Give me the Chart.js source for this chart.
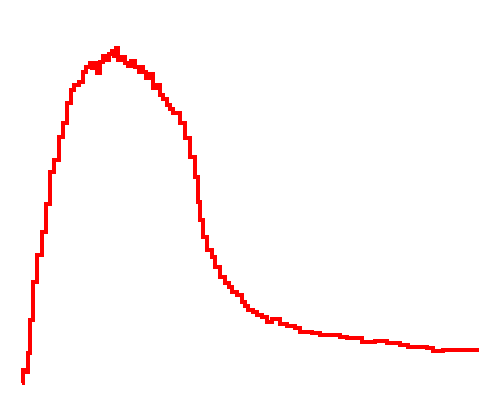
<!DOCTYPE html>
<html>
<head>
<meta charset="utf-8">
<script src="https://cdn.jsdelivr.net/npm/chart.js@4"></script>
<style>
  html, body { margin: 0; padding: 0; background: #fff; }
  canvas { display: block; }
</style>
</head>
<body>
<canvas id="chartCanvas" width="494" height="403"></canvas>
<script>
// positions along the curve and the height of each step
const xs = [22, 23, 25, 28, 30, 33, 37, 42, 46, 50, 54, 59, 63, 67, 71, 74, 79, 83, 86, 90, 92, 95, 97, 100,
  103, 106, 109, 112, 114, 116, 118, 121, 125, 128, 131, 135, 139, 141, 143, 146, 149, 153, 156, 160, 163, 167, 170, 173, 180, 185, 190, 195, 198, 200, 203, 207,
  212, 215, 220, 225, 229, 232, 237, 242, 245, 248, 253, 257, 262, 267, 272, 280, 287, 295, 300, 312, 320, 328, 340, 347, 362,
  375, 387, 400, 408, 427, 433, 443, 479];
const heights = [20, 33, 31, 50, 83, 121, 148, 171, 199, 231, 243, 266, 280, 300, 313, 318, 321, 331, 336, 340, 335, 340, 330, 341,
  347, 343, 349, 352, 347, 355, 343, 346, 340, 337, 342, 336, 331, 336, 331, 325, 329, 315, 318, 308, 304, 298, 294, 290, 280, 265, 246, 226, 201, 183, 166, 153,
  146, 136, 126, 120, 116, 111, 108, 101, 97, 93, 91, 88, 86, 81, 84, 79, 77, 75, 71, 70, 68, 68, 66, 65, 61,
  62, 60, 58, 56, 55, 52, 53, 53];

const ctx = document.getElementById("chartCanvas").getContext("2d");

new Chart(ctx, {
  type: "line",
  data: {
    datasets: [{
      data: xs.map((x, i) => ({ x: x, y: heights[i] })),
      borderColor: "#ff0000",
      borderWidth: 4,
      pointRadius: 0,
      stepped: true,
      fill: false
    }]
  },
  options: {
    responsive: false,
    animation: false,
    layout: { padding: 0 },
    plugins: {
      legend: { display: false },
      tooltip: { enabled: false }
    },
    scales: {
      x: { type: "linear", min: 0, max: 494, display: false },
      y: { min: 0, max: 403, display: false }
    }
  }
});
</script>
</body>
</html>
